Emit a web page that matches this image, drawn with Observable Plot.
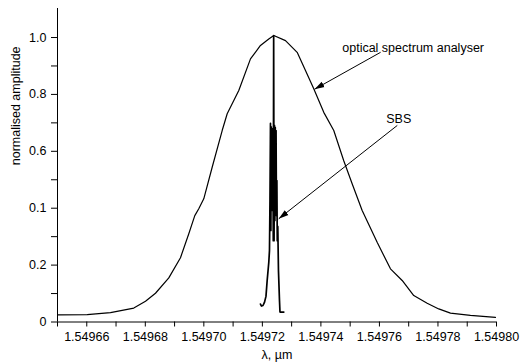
<!DOCTYPE html>
<html>
<head>
<meta charset="utf-8">
<script src="https://cdn.jsdelivr.net/npm/d3@7"></script>
<script src="https://cdn.jsdelivr.net/npm/@observablehq/plot@0.6"></script>
<style>
  html, body { margin: 0; padding: 0; background: #fff; }
  #chart svg { display: block; }
</style>
</head>
<body>
<div id="chart"></div>
<script>
// Optical spectrum analyser trace (wavelength in µm, normalised amplitude)
const osaWavelength = [
  1.54965000, 1.54966015, 1.54966811, 1.54967607, 1.54968007, 1.54968348,
  1.54968803, 1.54969202, 1.54969486, 1.54969691, 1.54969827, 1.54969998,
  1.54970285, 1.54970627, 1.54970798, 1.54971194, 1.54971594, 1.54971935,
  1.54972219, 1.54972390, 1.54972790, 1.54973189, 1.54973473, 1.54973756,
  1.54974098, 1.54974440, 1.54974781, 1.54975068, 1.54975410, 1.54975922,
  1.54976377, 1.54976777, 1.54977173, 1.54977631, 1.54978027, 1.54978427,
  1.54979110, 1.54979964
];
const osaAmplitude = [
  0.025, 0.026, 0.033, 0.049, 0.073, 0.101,
  0.155, 0.226, 0.310, 0.374, 0.398, 0.433,
  0.544, 0.673, 0.732, 0.814, 0.925, 0.972,
  0.995, 1.007, 0.989, 0.948, 0.884, 0.820,
  0.737, 0.673, 0.567, 0.486, 0.392, 0.280,
  0.187, 0.146, 0.093, 0.066, 0.046, 0.031,
  0.023, 0.016
];

// SBS trace
const sbsWavelength = [
  1.54971935, 1.54971970, 1.54972021, 1.54972072, 1.54972123, 1.54972164,
  1.54972219, 1.54972243, 1.54972260, 1.54972277, 1.54972291, 1.54972304,
  1.54972318, 1.54972332, 1.54972345, 1.54972359, 1.54972373, 1.54972386,
  1.54972400, 1.54972414, 1.54972427, 1.54972441, 1.54972455, 1.54972468,
  1.54972482, 1.54972496, 1.54972509, 1.54972527, 1.54972550, 1.54972585,
  1.54972602, 1.54972732
];
const sbsAmplitude = [
  0.063, 0.056, 0.058, 0.069, 0.090, 0.146,
  0.209, 0.251, 0.427, 0.698, 0.322, 0.686,
  0.392, 0.680, 0.462, 0.656, 0.286, 1.007,
  0.286, 0.691, 0.357, 0.684, 0.427, 0.673,
  0.374, 0.497, 0.286, 0.336, 0.181, 0.076,
  0.035, 0.035
];

// Axis ticks
const xTicks = [1.54966, 1.54968, 1.54970, 1.54972, 1.54974, 1.54976, 1.54978, 1.54980];
const xTickLabels = ["1.54966", "1.54968", "1.54970", "1.54972", "1.54974", "1.54976", "1.54978", "1.54980"];
const xMinorTicks = [1.54965, 1.54967, 1.54969, 1.54971, 1.54973, 1.54975, 1.54977, 1.54979];
const yTicks = [0, 0.2, 0.4, 0.6, 0.8, 1.0];
const yTickLabels = ["0", "0.2", "0.1", "0.6", "0.8", "1.0"];
const yMinorTicks = [0.1, 0.3, 0.5, 0.7, 0.9];

// Labels and annotations
const xLabel = "λ, µm";
const yLabel = "normalised amplitude";
const osaNote = ["optical spectrum analyser"];
const osaNoteX = [1.5497473];
const osaNoteY = [0.964];
const sbsNote = ["SBS"];
const sbsNoteX = [1.5497666];
const sbsNoteY = [0.714];
const arrowFromX = [1.5497604, 1.5497661];
const arrowFromY = [0.948, 0.691];
const arrowToX = [1.5497378, 1.5497256];
const arrowToY = [0.818, 0.363];

const osa = osaWavelength.map((w, i) => ({w, a: osaAmplitude[i]}));
const sbs = sbsWavelength.map((w, i) => ({w, a: sbsAmplitude[i]}));
const osaNotes = osaNote.map((t, i) => ({t, x: osaNoteX[i], y: osaNoteY[i]}));
const sbsNotes = sbsNote.map((t, i) => ({t, x: sbsNoteX[i], y: sbsNoteY[i]}));
const arrows = arrowFromX.map((x1, i) => ({x1, y1: arrowFromY[i], x2: arrowToX[i], y2: arrowToY[i]}));
const xLabelMap = new Map(xTicks.map((t, i) => [t, xTickLabels[i]]));
const yLabelMap = new Map(yTicks.map((t, i) => [t, yTickLabels[i]]));

const font = "'Liberation Sans', Arial, Helvetica, sans-serif";
const fs = 12.5;

const chart = Plot.plot({
  width: 520,
  height: 362,
  marginTop: 8,
  marginRight: 24,
  marginBottom: 40.5,
  marginLeft: 57,
  style: {fontFamily: font, fontSize: fs + "px", color: "#000", background: "#fff", overflow: "visible"},
  x: {domain: [1.54965, 1.54980], axis: null},
  y: {domain: [0, 1.102], axis: null},
  marks: [
    Plot.ruleY([0], {stroke: "#000", strokeWidth: 1}),
    Plot.ruleX([1.54965], {stroke: "#000", strokeWidth: 1}),
    Plot.axisX({ticks: xTicks, tickFormat: d => xLabelMap.get(d), tickSize: 5, tickPadding: 5, fontSize: fs, stroke: "#000", fill: "#000"}),
    Plot.axisX({ticks: xMinorTicks, tickFormat: () => "", tickSize: 5, stroke: "#000"}),
    Plot.axisY({ticks: yTicks, tickFormat: d => yLabelMap.get(d), tickSize: 6, tickPadding: 5, fontSize: fs, stroke: "#000", fill: "#000"}),
    Plot.axisY({ticks: yMinorTicks, tickFormat: () => "", tickSize: 6, stroke: "#000"}),
    Plot.line(osa, {x: "w", y: "a", stroke: "#000", strokeWidth: 1.2, curve: "linear"}),
    Plot.line(sbs, {x: "w", y: "a", stroke: "#000", strokeWidth: 1.7, curve: "linear", strokeLinejoin: "round"}),
    Plot.link(arrows, {x1: "x1", y1: "y1", x2: "x2", y2: "y2", stroke: "#000", strokeWidth: 1, markerEnd: "arrow"}),
    Plot.text(osaNotes, {x: "x", y: "y", text: "t", textAnchor: "start", fill: "#000", fontSize: fs}),
    Plot.text(sbsNotes, {x: "x", y: "y", text: "t", textAnchor: "middle", fill: "#000", fontSize: fs}),
    Plot.text([xLabel], {frameAnchor: "bottom", dy: 32.5, text: d => d, fill: "#000", fontSize: fs, lineAnchor: "middle"}),
    Plot.text([yLabel], {frameAnchor: "left", dx: -42, rotate: -90, text: d => d, fill: "#000", fontSize: fs, lineAnchor: "middle"})
  ]
});

document.getElementById("chart").appendChild(chart);

// Filled arrowheads
const svg = d3.select(chart);
const defs = svg.insert("defs", ":first-child");
defs.append("marker")
  .attr("id", "filledArrow")
  .attr("viewBox", "-10 -4 10 8")
  .attr("refX", 0).attr("refY", 0)
  .attr("markerWidth", 10).attr("markerHeight", 8)
  .attr("markerUnits", "userSpaceOnUse")
  .attr("orient", "auto")
  .append("path")
  .attr("d", "M-10,-3L0,0L-10,3Z")
  .attr("fill", "#000");
svg.selectAll("[marker-end]").attr("marker-end", "url(#filledArrow)");
</script>
</body>
</html>
